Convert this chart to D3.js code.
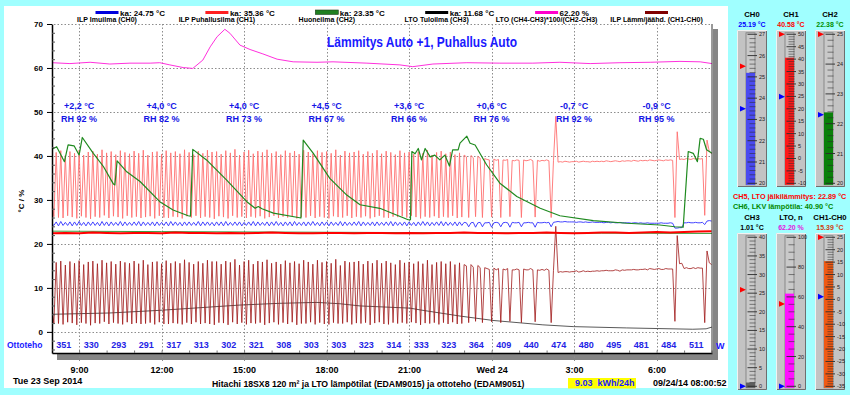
<!DOCTYPE html>
<html><head><meta charset="utf-8">
<script src="https://cdn.jsdelivr.net/npm/d3@7"></script>
<style>
html,body{margin:0;padding:0;background:#a0ffff;}
svg{display:block;font-family:Arial,"Liberation Sans",sans-serif;}
</style></head><body>
<svg id="c" width="850" height="395"></svg>
<script>
// ---------------- DATA ----------------
const titleText = "Lämmitys Auto +1, Puhallus Auto";
const xTickHours = [9, 12, 15, 18, 21, 24, 27, 30];
const xTickLabels = ["9:00", "12:00", "15:00", "18:00", "21:00", "Wed 24", "3:00", "6:00"];
const yTicks = [0, 10, 20, 30, 40, 50, 60, 70];
const annoTemp = ["+2,2 °C", "+4,0 °C", "+4,0 °C", "+4,5 °C", "+3,6 °C", "+0,6 °C", "-0,7 °C", "-0,9 °C"];
const annoRH = ["RH 92 %", "RH 82 %", "RH 73 %", "RH 67 %", "RH 66 %", "RH 76 %", "RH 92 %", "RH 95 %"];
const ottoteho = [351, 330, 293, 291, 317, 313, 302, 321, 308, 303, 303, 323, 314, 333, 323, 364, 409, 440, 474, 480, 495, 481, 484, 511];
const legendNames = ["ILP Imuilma (CH0)", "ILP Puhallusilma (CH1)", "Huoneilma (CH2)", "LTO Tuloilma (CH3)", "LTO (CH4-CH3)*100/(CH2-CH3)", "ILP Lämm/jäähd. (CH1-CH0)"];
const legendKa = ["ka: 24.75 °C", "ka: 35.36 °C", "ka: 23.35 °C", "ka: 11.68 °C", "62.20 %", ""];

// CH1 (ILP puhallusilma), 5-minute samples from 08:00
const ch1 = [
30.5,26.2,40.8,26.0,41.2,25.9,40.1,26.4,41.0,26.1,40.6,25.8,
41.3,26.3,40.2,26.0,40.9,25.7,41.1,26.2,40.4,26.0,41.4,26.5,
40.7,25.9,41.0,26.3,40.3,26.1,41.2,25.8,40.8,26.4,40.5,26.0,
41.1,26.2,40.6,25.9,41.3,26.1,40.2,26.3,40.9,25.8,41.0,26.4,
40.4,26.0,41.2,25.9,40.7,26.2,41.0,26.1,40.5,25.8,41.4,26.3,
40.8,26.0,40.3,26.4,41.1,25.9,40.6,26.2,41.3,26.0,40.9,25.7,
41.0,26.3,40.4,26.1,41.2,25.8,40.7,26.4,41.5,26.0,40.2,26.2,
40.9,25.9,41.3,26.2,40.5,26.0,41.1,26.3,40.8,25.8,41.4,26.1,
40.6,26.4,41.0,25.9,40.3,26.2,41.2,26.0,40.7,26.3,41.1,25.8,
40.4,26.1,41.3,26.0,40.9,26.4,40.5,25.9,41.2,26.2,40.8,26.0,
41.0,25.8,40.6,26.3,41.4,26.1,40.2,26.0,41.1,26.4,40.7,25.9,
40.9,26.2,41.2,26.0,40.4,26.3,41.0,25.8,40.6,26.1,41.3,26.4,
40.5,26.0,41.1,25.9,40.8,26.2,40.3,26.1,41.2,26.3,40.7,26.0,
40.9,26.4,40.4,26.1,41.0,25.8,40.6,26.2,41.3,26.0,40.2,26.3,
40.8,25.9,41.1,26.2,40.5,26.0,40.9,26.4,40.3,25.9,40.7,26.1,
40.2,39.8,26.0,40.1,39.6,26.2,39.9,39.5,26.0,39.4,39.2,39.1,
26.1,39.3,39.0,39.2,26.0,39.1,39.0,39.2,26.2,39.0,38.9,39.1,
39.0,26.0,39.1,38.9,39.0,39.2,38.9,26.1,39.0,38.8,39.0,38.9,
39.1,38.9,26.0,38.9,49.0,38.6,38.7,38.6,38.8,38.7,38.6,38.7,
38.7,38.8,38.6,38.7,38.8,38.7,38.7,38.6,38.8,38.7,38.8,38.7,
38.8,38.7,38.9,38.8,38.7,38.8,38.9,38.8,38.7,38.9,38.8,38.9,
38.9,38.8,39.0,38.9,38.8,39.0,38.9,39.0,38.9,39.1,39.0,38.9,
39.0,39.1,39.0,38.9,39.1,39.0,39.1,39.0,26.0,45.5,39.2,39.3,
39.2,39.4,39.3,39.2,39.4,39.3,39.4,39.3,39.4,26.5,43.6,41.0,
40.5];
// CH0 (ILP imuilma), 5-minute samples from 08:00
const ch0 = [
24.7,24.2,25.0,24.1,25.1,24.2,24.9,24.2,25.0,24.1,25.0,24.2,
25.1,24.2,24.9,24.1,25.0,24.2,25.0,24.2,24.9,24.1,25.1,24.2,
25.0,24.1,25.0,24.2,24.9,24.2,25.1,24.1,25.0,24.2,24.9,24.2,
25.0,24.2,25.1,24.1,25.0,24.2,24.9,24.2,25.0,24.1,25.0,24.2,
24.9,24.2,25.0,24.1,25.1,24.2,25.0,24.2,24.9,24.1,25.0,24.2,
25.0,24.2,24.9,24.2,25.1,24.1,25.0,24.2,25.0,24.2,24.9,24.1,
25.0,24.2,25.0,24.1,25.1,24.2,24.9,24.2,25.0,24.2,25.0,24.1,
24.9,24.2,25.0,24.2,25.1,24.1,25.0,24.2,24.9,24.2,25.0,24.1,
25.0,24.2,25.1,24.2,24.9,24.1,25.0,24.2,25.0,24.1,25.1,24.2,
24.9,24.2,25.0,24.1,25.0,24.2,25.1,24.2,24.9,24.1,25.0,24.2,
25.0,24.1,25.0,24.2,24.9,24.2,25.1,24.1,25.0,24.2,24.9,24.2,
25.0,24.2,25.1,24.1,25.0,24.2,24.9,24.2,25.0,24.1,25.0,24.2,
24.9,24.2,25.0,24.2,25.1,24.1,25.0,24.2,24.9,24.2,25.0,24.1,
25.0,24.2,24.9,24.1,25.0,24.2,25.1,24.2,25.0,24.1,24.9,24.2,
25.0,24.2,25.1,24.1,25.0,24.2,24.9,24.2,25.0,24.1,25.0,24.2,
24.9,24.8,23.9,24.8,24.9,23.8,24.8,24.9,23.9,24.8,24.8,24.9,
23.8,24.8,24.9,24.8,23.9,24.8,24.9,24.8,23.8,24.9,24.8,24.8,
24.9,23.9,24.8,24.8,24.9,24.8,24.8,23.8,24.9,24.8,24.8,24.9,
24.8,24.9,23.9,24.9,25.0,25.1,25.0,25.0,25.1,25.0,25.0,25.0,
25.0,24.9,25.0,25.0,24.9,25.0,24.9,24.9,25.0,24.9,24.9,24.9,
24.9,24.8,24.9,24.9,24.8,24.9,24.8,24.8,24.9,24.8,24.8,24.8,
24.8,24.7,24.8,24.8,24.7,24.8,24.7,24.7,24.8,24.7,24.7,24.7,
24.7,24.7,24.8,24.7,24.7,24.7,24.8,24.7,23.6,23.6,23.7,23.7,
24.8,24.8,24.9,24.8,24.8,24.9,24.8,24.8,24.9,24.4,25.2,25.3,
25.2];
// CH5 (LTO jälkilämmitys), 30-minute samples from 08:00
const ch5 = [22.4,22.5,22.4,22.6,22.5,22.4,22.5,22.5,22.4,22.6,
22.5,22.5,22.4,22.5,22.4,22.5,22.6,22.5,22.4,22.4,
22.5,22.5,22.4,22.5,22.5,22.4,22.5,22.4,22.5,22.5,
22.6,22.5,22.5,22.4,22.5,22.5,22.6,22.5,22.4,22.5,
22.6,22.6,22.5,22.6,22.7,22.6,22.7,22.8,22.9];
// CH2 (huoneilma): minutes after 08:00, values
const ch2Min = [1, 240, 480, 720, 960, 1200, 1441];
const ch2Val = [22.9, 22.8, 22.7, 22.6, 22.5, 22.45, 22.38];
// CH3 (LTO tuloilma)
const ch3Min = [1, 127, 236, 324, 411, 498, 579, 629, 673, 782, 804, 891, 963, 1072, 1138, 1255, 1399, 1428, 1441];
const ch3Val = [4.0, 4.3, 4.9, 5.5, 6.1, 6.5, 6.7, 6.4, 5.9, 5.4, 5.0, 3.6, 2.6, 1.6, 1.2, 0.9, 0.6, 0.7, 1.1];
// LTO efficiency %
const ltoMin = [1, 40, 84, 127, 171, 215, 236, 258, 287, 308, 330, 346, 361, 378, 389, 411, 433, 461, 492, 527, 579, 614, 688, 760, 788, 832, 906, 978, 1050, 1109, 1175, 1240, 1306, 1371, 1415, 1441];
const ltoVal = [61.2, 61.0, 61.3, 60.9, 61.1, 61.1, 61.2, 60.7, 60.1, 59.9, 61.8, 64.8, 67.1, 68.8, 67.9, 65.2, 64.2, 63.2, 62.0, 61.4, 61.3, 61.4, 61.1, 60.7, 60.3, 60.9, 61.2, 61.1, 61.1, 61.3, 61.0, 61.2, 61.3, 61.5, 61.4, 61.0];
// CH6 (LKV lämpötila)
const ch6Min = [1, 11, 28, 36, 49, 60, 67, 91, 113, 135, 138, 143, 164, 193, 236, 265, 298, 303, 308, 338, 382, 426, 444, 451, 459, 484, 538, 544, 549, 571, 607, 644, 673, 716, 778, 783, 786, 793, 800, 807, 815, 826, 836, 847, 858, 868, 875, 887, 891, 906, 913, 924, 949, 978, 1015, 1066, 1109, 1182, 1255, 1327, 1360, 1378, 1389, 1400, 1409, 1415, 1422, 1429, 1441];
const ch6Val = [41.5, 42.1, 38.7, 42.5, 42.3, 40.2, 44.2, 40.6, 37.6, 33.6, 33.4, 38.9, 36.4, 34.2, 29.6, 27.7, 26.4, 26.3, 41.5, 39.1, 34.5, 29.6, 28.1, 28.5, 28.0, 27.0, 26.0, 25.9, 43.6, 40.6, 34.9, 31.1, 28.9, 28.1, 25.5, 25.5, 41.0, 40.5, 41.7, 39.1, 41.7, 39.8, 40.2, 39.1, 40.2, 37.7, 41.4, 41.4, 42.9, 44.5, 42.9, 42.5, 38.0, 33.8, 30.8, 28.1, 26.4, 25.3, 24.7, 24.3, 23.9, 23.8, 41.0, 40.6, 38.7, 44.0, 43.8, 41.4, 40.6];

// Gauges
const gaugeTitles = ["CH0", "CH1", "CH2", "CH3", "LTO, n", "CH1-CH0"];
const gaugeValueText = ["25.19 °C", "40.58 °C", "22.38 °C", "1.01 °C", "62.20 %", "15.39 °C"];
const gaugeValues = [25.19, 40.58, 22.38, 1.01, 62.20, 15.39];
const gaugeMin = [20, -10, 20, 0, 0, -35];
const gaugeMax = [27, 50, 25, 40, 100, 25];
const gaugeLabelStep = [1, 5, 1, 5, 20, 5];
const gaugeMinorStep = [0.2, 1, 0.2, 1, 5, 1];
const gaugeHigh = [25.5, 50, 25, 25.9, 55.3, 25];
const gaugeLow = [23.5, 24.9, 22.3, 0, 0, 1.1];
const infoLines = ["CH5, LTO jälkilämmitys: 22.89 °C", "CH6, LKV lämpötila: 40.90 °C"];
const footTitle = "Hitachi 18SX8 120 m² ja LTO lämpötilat (EDAM9015) ja ottoteho (EDAM9051)";
const energyText = "9.03  kWh/24h";
const stampText = "09/24/14 08:00:52";
const dateText = "Tue 23 Sep 2014";

// ---------------- STYLES ----------------
const FONT = 'Arial, "Liberation Sans", sans-serif';
const legendColors = ["#0000dd", "#ff2020", "#208020", "#000000", "#ff00cc", "#800000"];
const gaugeFill = ["#4b4bf0", "#ff1a1a", "#0a800a", "#606060", "#ff10ff", "#f05a14"];
const gaugeTextColor = ["#0000ff", "#ff0000", "#009000", "#000000", "#e020e0", "#d04010"];
const infoColors = ["#ff0000", "#008800"];
const BLUE = "#1a1aff";

// ---------------- DRAW ----------------
const svg = d3.select("#c").attr("font-family", FONT);
svg.append("rect").attr("width", 850).attr("height", 395).attr("fill", "#a0ffff");
svg.append("rect").attr("x", 4).attr("y", 6).attr("width", 724).attr("height", 382).attr("fill", "#ffffff");

const base = new Date(2014, 8, 23, 8, 0, 0);
const tMin = m => new Date(base.getTime() + m * 60000);
const x = d3.scaleTime().domain([tMin(52 / 60), tMin(1440 + 52 / 60)]).range([52, 712]);
const y = d3.scaleLinear().domain([-4.8, 70]).range([353, 24]);
const xTickDates = xTickHours.map(h => tMin((h - 8) * 60));

// shadow
svg.append("rect").attr("x", 57).attr("y", 354).attr("width", 661).attr("height", 6).attr("fill", "#858585");
svg.append("rect").attr("x", 713).attr("y", 29).attr("width", 5).attr("height", 331).attr("fill", "#858585");

// grid
const grid = svg.append("g").attr("stroke", "#8c8c8c").attr("stroke-dasharray", "1.5,2").attr("stroke-width", 1);
grid.selectAll("line.v").data(xTickDates).join("line")
  .attr("x1", d => Math.round(x(d)) + 0.5).attr("x2", d => Math.round(x(d)) + 0.5)
  .attr("y1", 24).attr("y2", 361);
grid.selectAll("line.h").data(yTicks).join("line")
  .attr("x1", 47).attr("x2", 712)
  .attr("y1", d => Math.round(y(d)) + 0.5).attr("y2", d => Math.round(y(d)) + 0.5);

// clip
svg.append("clipPath").attr("id", "clip").append("rect").attr("x", 52).attr("y", 24).attr("width", 660).attr("height", 329);
const plot = svg.append("g").attr("clip-path", "url(#clip)");
const line = d3.line().x(d => x(d.t)).y(d => y(d.v));
const grid5 = arr => arr.map((v, i) => ({ t: tMin(i * 5), v }));
const grid30 = arr => arr.map((v, i) => ({ t: tMin(i * 30), v }));
const pairs = (ms, vs) => ms.map((m, i) => ({ t: tMin(m), v: vs[i] }));
// CH1-CH0 series as defined in the legend
const diff = ch1.map((v, i) => +(v - ch0[i]).toFixed(2));

const series = [
  { d: pairs(ch3Min, ch3Val), c: "#5a5a5a", w: 1 },
  { d: grid5(diff), c: "#a01818", w: 0.8 },
  { d: grid5(ch1), c: "#ff7070", w: 0.9 },
  { d: grid5(ch0), c: "#3030ff", w: 0.9 },
  { d: pairs(ltoMin, ltoVal), c: "#ff30dd", w: 1 },
  { d: pairs(ch2Min, ch2Val), c: "#3c9c3c", w: 1 },
  { d: grid30(ch5), c: "#ff0000", w: 2 },
  { d: pairs(ch6Min, ch6Val), c: "#1f8a1f", w: 1.2 }
];
plot.selectAll("path.s").data(series).join("path")
  .attr("fill", "none").attr("stroke", s => s.c).attr("stroke-width", s => s.w)
  .attr("stroke-linejoin", "round").attr("d", s => line(s.d));

// axes
const yAxis = svg.append("g").attr("transform", "translate(52,0)")
  .call(d3.axisLeft(y).tickValues(yTicks).tickSize(5).tickSizeOuter(0).tickPadding(4));
yAxis.attr("font-family", FONT).attr("font-size", 8).attr("font-weight", "bold");
yAxis.select(".domain").attr("stroke", "#000").attr("stroke-width", 1.5);
yAxis.selectAll("text").attr("fill", "#000");
const minorY = d3.range(-4, 70, 2).filter(v => v % 10 !== 0);
const yMinor = svg.append("g").attr("transform", "translate(52,0)")
  .call(d3.axisRight(y).tickValues(minorY).tickSize(3).tickFormat(""));
yMinor.select(".domain").remove();
yMinor.selectAll("line").attr("stroke", "#555");

const xAxis = svg.append("g").attr("transform", "translate(0,353)")
  .call(d3.axisBottom(x).tickValues(xTickDates).tickFormat((d, i) => xTickLabels[i]).tickSize(0).tickSizeOuter(0).tickPadding(14));
xAxis.attr("font-family", FONT).attr("font-size", 9).attr("font-weight", "bold");
xAxis.select(".domain").attr("stroke", "#000").attr("stroke-width", 1.5);
xAxis.selectAll("text").attr("fill", "#000");
const xMinor = svg.append("g").attr("transform", "translate(0,353)")
  .call(d3.axisBottom(x).ticks(d3.timeHour.every(1)).tickSize(-2.5).tickFormat(""));
xMinor.select(".domain").remove();
xMinor.selectAll("line").attr("stroke", "#777");
// right border
svg.append("line").attr("x1", 712).attr("x2", 712).attr("y1", 24).attr("y2", 354).attr("stroke", "#333").attr("stroke-width", 1);

// y label
svg.append("text").attr("transform", "translate(24,201) rotate(-90)").attr("text-anchor", "middle")
  .attr("font-size", 8).attr("font-weight", "bold").text("°C / %");

// legend
const legCenters = legendNames.map((_, k) => 107 + 109.9 * k);
const leg = svg.append("g").attr("font-weight", "bold");
legendNames.forEach((nm, k) => {
  const c = legCenters[k];
  if (k === 2) {
    leg.append("rect").attr("x", c - 11.5).attr("y", 10).attr("width", 23).attr("height", 4.5)
      .attr("fill", legendColors[k]).attr("stroke", "#204020").attr("stroke-width", 0.6);
  } else {
    leg.append("rect").attr("x", c - 11.5).attr("y", 11).attr("width", 23).attr("height", 3).attr("fill", legendColors[k]);
  }
  if (legendKa[k]) leg.append("text").attr("x", c + 13).attr("y", 15.5).attr("font-size", 8).text(legendKa[k]);
  leg.append("text").attr("x", c).attr("y", 22).attr("text-anchor", "middle").attr("font-size", 7).text(nm);
});

// title
svg.append("text").attr("x", 327).attr("y", 47).attr("font-size", 14).attr("font-weight", "bold")
  .attr("fill", BLUE).attr("textLength", 190).attr("lengthAdjust", "spacingAndGlyphs").text(titleText);

// annotations
const ann = svg.append("g").attr("font-size", 9).attr("font-weight", "bold").attr("fill", "#1414e6").attr("text-anchor", "middle");
xTickDates.forEach((d, i) => {
  ann.append("text").attr("x", x(d)).attr("y", 109).text(annoTemp[i]);
  ann.append("text").attr("x", x(d)).attr("y", 122).text(annoRH[i]);
});

// ottoteho
const ot = svg.append("g").attr("font-size", 9).attr("font-weight", "bold").attr("fill", "#2323e6").attr("text-anchor", "middle");
ottoteho.forEach((v, k) => {
  ot.append("text").attr("x", x(tMin(k * 60 + 30)) - 1.5).attr("y", 348).text(v);
});
svg.append("text").attr("x", 7).attr("y", 348).attr("font-size", 8.5).attr("font-weight", "bold").attr("fill", BLUE).text("Ottoteho");
svg.append("text").attr("x", 716).attr("y", 349).attr("font-size", 9).attr("font-weight", "bold").attr("fill", BLUE).text("W");

// footer
svg.append("text").attr("x", 13).attr("y", 383.5).attr("font-size", 9).attr("font-weight", "bold").text(dateText);
svg.append("text").attr("x", 212).attr("y", 386.5).attr("font-size", 8.7).attr("font-weight", "bold").text(footTitle);
svg.append("rect").attr("x", 568).attr("y", 378).attr("width", 68).attr("height", 10.5).attr("fill", "#ffff00");
svg.append("text").attr("x", 575).attr("y", 386).attr("font-size", 9).attr("font-weight", "bold")
  .attr("fill", BLUE).style("white-space", "pre").text(energyText);
svg.append("text").attr("x", 653).attr("y", 386).attr("font-size", 9).attr("font-weight", "bold").text(stampText);

// ---------------- GAUGES ----------------
const rowsY = [30, 233];
gaugeTitles.forEach((title, k) => {
  const col = k % 3, row = Math.floor(k / 3);
  const bx = 737 + col * 39, by = rowsY[row];
  const top = by + 4.3, bot = by + 153.3;
  const gy = d3.scaleLinear().domain([gaugeMin[k], gaugeMax[k]]).range([bot, top]);
  const g = svg.append("g");
  g.append("text").attr("x", bx + 15).attr("y", by - 12.7).attr("text-anchor", "middle")
    .attr("font-size", 7.7).attr("font-weight", "bold").text(title);
  g.append("text").attr("x", bx + 15).attr("y", by - 2.6).attr("text-anchor", "middle")
    .attr("font-size", 7).attr("font-weight", "bold").attr("fill", gaugeTextColor[k]).text(gaugeValueText[k]);
  g.append("rect").attr("x", bx).attr("y", by).attr("width", 30).attr("height", 157).attr("fill", "#c3c3c3");
  g.append("path").attr("d", `M${bx + 0.5},${by + 157}V${by + 0.5}H${bx + 30}`).attr("fill", "none").attr("stroke", "#f2f2f2");
  g.append("path").attr("d", `M${bx + 1},${by + 156.5}H${bx + 29.5}V${by + 1}`).attr("fill", "none").attr("stroke", "#6e6e6e");
  g.append("rect").attr("x", bx + 9).attr("y", top - 1.5).attr("width", 9).attr("height", bot - top + 3)
    .attr("fill", "#c9c9c9").attr("stroke", "#7a7a7a").attr("stroke-width", 0.8);
  g.append("rect").attr("x", bx + 9).attr("y", gy(gaugeValues[k])).attr("width", 9)
    .attr("height", bot + 1.5 - gy(gaugeValues[k])).attr("fill", gaugeFill[k]);
  const ticks = d3.range(gaugeMin[k], gaugeMax[k] + gaugeMinorStep[k] / 2, gaugeMinorStep[k]);
  ticks.forEach(v => {
    const r = v / gaugeLabelStep[k];
    const major = Math.abs(r - Math.round(r)) < 1e-6;
    g.append("line").attr("x1", bx + (major ? 10.5 : 12.5)).attr("x2", bx + (major ? 20 : 18.5))
      .attr("y1", gy(v)).attr("y2", gy(v)).attr("stroke", "#2a2a2a").attr("stroke-width", major ? 0.9 : 0.55);
    if (major) g.append("text").attr("x", bx + 22).attr("y", gy(v) + 2).attr("font-size", 5.5)
      .attr("fill", "#222").text(Math.round(v));
  });
  const tri = (val, col) => {
    const ty = gy(val), tx = bx + 9;
    g.append("path").attr("d", `M${tx},${ty}L${tx - 6},${ty - 2.8}L${tx - 6},${ty + 2.8}Z`).attr("fill", col);
  };
  tri(gaugeHigh[k], "#ff0000");
  tri(gaugeLow[k], "#0000ff");
});
infoLines.forEach((t, i) => {
  svg.append("text").attr("x", 733).attr("y", 198.5 + i * 10).attr("font-size", 7.3).attr("font-weight", "bold")
    .attr("fill", infoColors[i]).text(t);
});
</script></body></html>
